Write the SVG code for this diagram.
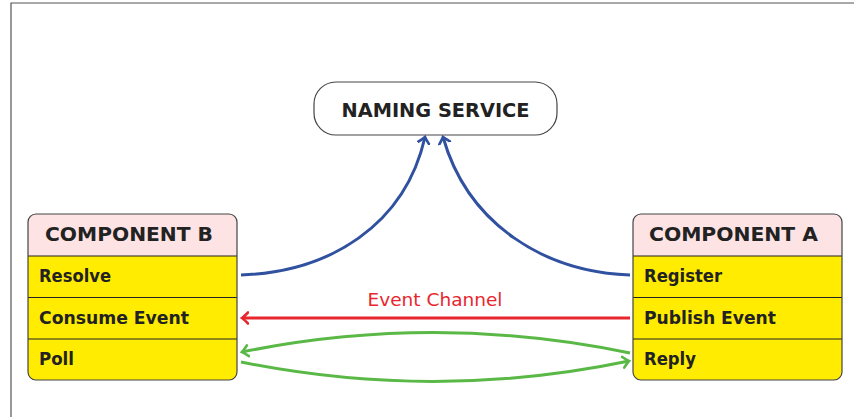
<svg xmlns="http://www.w3.org/2000/svg" width="854" height="417" viewBox="0 0 854 417">
  <style>
    .frame { stroke: #555; stroke-width: 1.2; fill: none; }
    .box { stroke: #444; stroke-width: 1.2; }
    .head { fill: #fde3e4; }
    .row { fill: #ffec00; }
    .sep { stroke: #222; stroke-width: 1.2; }
    .title { font-family: "DejaVu Sans", "Liberation Sans", sans-serif; font-weight: bold; font-size: 19px; fill: #222; }
    .item { font-family: "DejaVu Sans", "Liberation Sans", sans-serif; font-weight: bold; font-size: 18px; fill: #222; }
    .lbl { font-family: "DejaVu Sans", "Liberation Sans", sans-serif; font-size: 18px; fill: #e8262e; }
    .blue { stroke: #3050a0; stroke-width: 3; fill: none; }
    .red { stroke: #e8262e; stroke-width: 3; fill: none; }
    .green { stroke: #5ab946; stroke-width: 3; fill: none; }
  </style>
  <defs>
    <marker id="arrBlue" viewBox="-7 -7 9 14" markerWidth="9" markerHeight="14" refX="0" refY="0" orient="auto" markerUnits="userSpaceOnUse">
      <path d="M-6,-5.5 Q-1.5,-1 0,0 Q-1.5,1 -6,5.5" fill="none" stroke="#3050a0" stroke-width="2.6" stroke-linecap="round"/>
    </marker>
    <marker id="arrRed" viewBox="-7 -7 9 14" markerWidth="9" markerHeight="14" refX="0" refY="0" orient="auto" markerUnits="userSpaceOnUse">
      <path d="M-6,-5.5 Q-1.5,-1 0,0 Q-1.5,1 -6,5.5" fill="none" stroke="#e8262e" stroke-width="2.6" stroke-linecap="round"/>
    </marker>
    <marker id="arrGreen" viewBox="-7 -7 9 14" markerWidth="9" markerHeight="14" refX="0" refY="0" orient="auto" markerUnits="userSpaceOnUse">
      <path d="M-6,-5.5 Q-1.5,-1 0,0 Q-1.5,1 -6,5.5" fill="none" stroke="#5ab946" stroke-width="2.6" stroke-linecap="round"/>
    </marker>
    <clipPath id="clipB"><rect x="28" y="214" width="209" height="166" rx="8"/></clipPath>
    <clipPath id="clipA"><rect x="633" y="214" width="209" height="166" rx="8"/></clipPath>
  </defs>

  <!-- page frame (top and left edges) -->
  <path class="frame" d="M11,417 V3 H854"/>

  <!-- naming service -->
  <g id="naming-service">
    <rect class="box" x="314" y="82" width="243" height="53" rx="22" fill="#ffffff"/>
    <text class="title" x="435.5" y="117" text-anchor="middle" textLength="188" lengthAdjust="spacingAndGlyphs">NAMING SERVICE</text>
  </g>

  <!-- component B -->
  <g id="component-b">
    <g clip-path="url(#clipB)">
      <rect class="head" x="28" y="214" width="209" height="42"/>
      <rect class="row" x="28" y="256" width="209" height="124"/>
    </g>
    <line class="sep" x1="28" y1="256" x2="237" y2="256"/>
    <line class="sep" x1="28" y1="297.5" x2="237" y2="297.5"/>
    <line class="sep" x1="28" y1="339" x2="237" y2="339"/>
    <rect class="box" x="28" y="214" width="209" height="166" rx="8" fill="none"/>
    <text class="title" x="45" y="241" textLength="168" lengthAdjust="spacingAndGlyphs">COMPONENT B</text>
    <text class="item" x="39" y="282" textLength="72" lengthAdjust="spacingAndGlyphs">Resolve</text>
    <text class="item" x="39" y="324" textLength="150" lengthAdjust="spacingAndGlyphs">Consume Event</text>
    <text class="item" x="39" y="365" textLength="35" lengthAdjust="spacingAndGlyphs">Poll</text>
  </g>

  <!-- component A -->
  <g id="component-a">
    <g clip-path="url(#clipA)">
      <rect class="head" x="633" y="214" width="209" height="42"/>
      <rect class="row" x="633" y="256" width="209" height="124"/>
    </g>
    <line class="sep" x1="633" y1="256" x2="842" y2="256"/>
    <line class="sep" x1="633" y1="297.5" x2="842" y2="297.5"/>
    <line class="sep" x1="633" y1="339" x2="842" y2="339"/>
    <rect class="box" x="633" y="214" width="209" height="166" rx="8" fill="none"/>
    <text class="title" x="649" y="241" textLength="169" lengthAdjust="spacingAndGlyphs">COMPONENT A</text>
    <text class="item" x="644" y="282" textLength="78" lengthAdjust="spacingAndGlyphs">Register</text>
    <text class="item" x="644" y="324" textLength="132" lengthAdjust="spacingAndGlyphs">Publish Event</text>
    <text class="item" x="644" y="365" textLength="52" lengthAdjust="spacingAndGlyphs">Reply</text>
  </g>

  <!-- connectors -->
  <g id="connectors">
    <path class="blue" d="M241,275 C330,272 405,225 425,137" marker-end="url(#arrBlue)"/>
    <path class="blue" d="M630,275 C545,272 468,225 443,137" marker-end="url(#arrBlue)"/>
    <path class="red" d="M630,318 H242" marker-end="url(#arrRed)"/>
    <text class="lbl" x="435" y="306" text-anchor="middle" textLength="135" lengthAdjust="spacingAndGlyphs">Event Channel</text>
    <path class="green" d="M630,353 C500,326 370,326 242,352" marker-end="url(#arrGreen)"/>
    <path class="green" d="M241,362 C370,388 500,388 629,361" marker-end="url(#arrGreen)"/>
  </g>
</svg>
